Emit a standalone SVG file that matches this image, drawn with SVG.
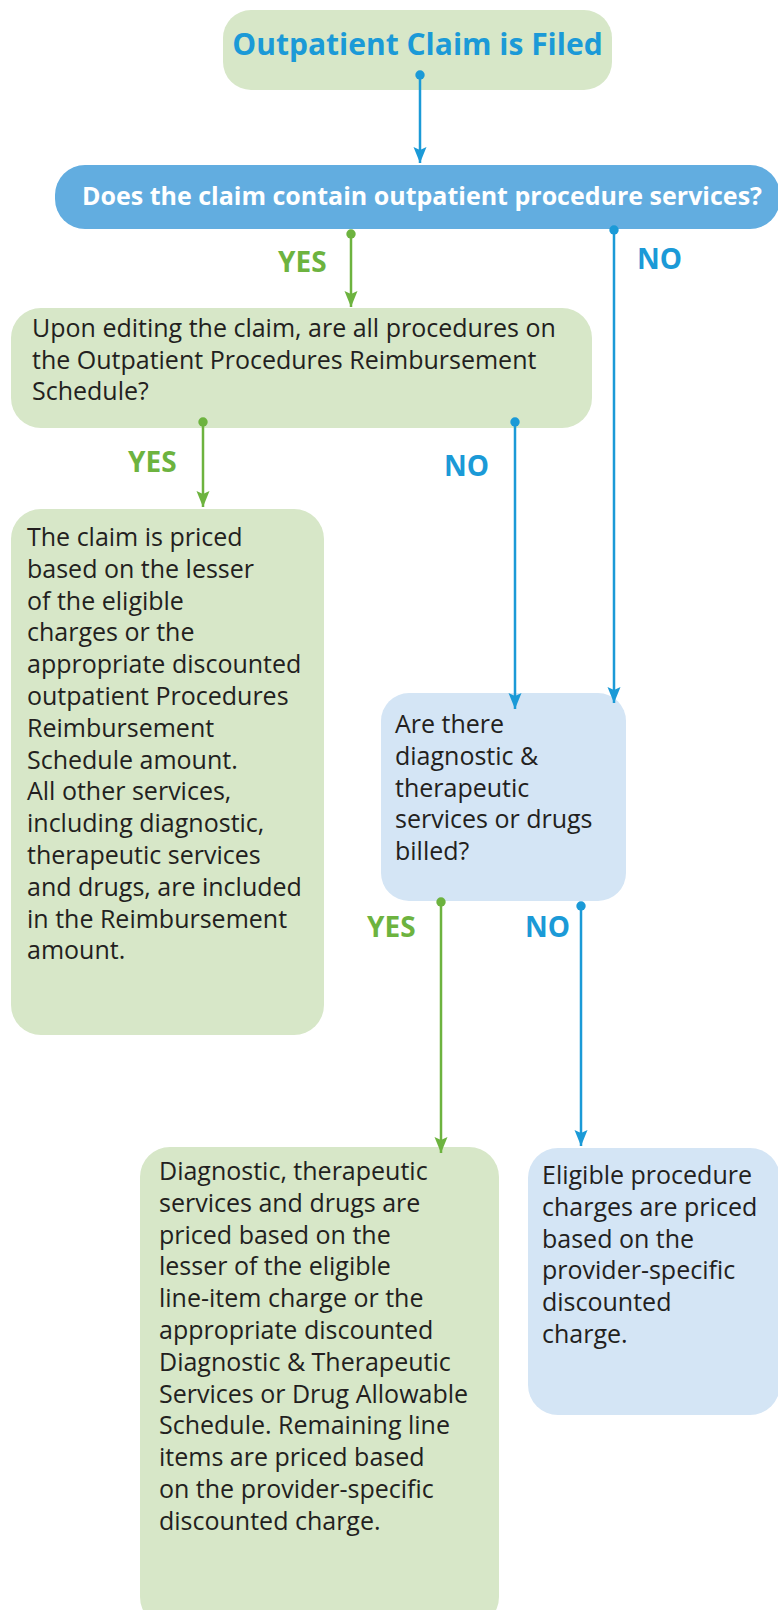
<svg xmlns="http://www.w3.org/2000/svg" width="778" height="1610" viewBox="0 0 778 1610">
<style>
.g{fill:#d7e7c8}
.lb{fill:#d4e5f5}
.db{fill:#62ade0}
.t{font-family:"Open Sans","Noto Sans",sans-serif;font-size:25px;fill:#231f20}
.ttl{font-family:"Open Sans","Noto Sans",sans-serif;font-size:30px;font-weight:bold;fill:#1b9ad7}
.q{font-family:"Open Sans","Noto Sans",sans-serif;font-size:25px;font-weight:bold;fill:#ffffff}
.yes{font-family:"Open Sans","Noto Sans",sans-serif;font-size:28px;font-weight:bold;fill:#6db33f}
.no{font-family:"Open Sans","Noto Sans",sans-serif;font-size:28px;font-weight:bold;fill:#1b9ad7}
.cg{stroke:#6db33f;stroke-width:2.5;fill:none}
.cb{stroke:#1b9ad7;stroke-width:2.5;fill:none}
.dg{fill:#6db33f}
.dbl{fill:#1b9ad7}
</style>
<defs>
<marker id="ag" markerUnits="userSpaceOnUse" markerWidth="17" markerHeight="14" refX="16" refY="7" orient="auto" viewBox="0 0 17 14">
<path d="M0,0.5 L3,7 L0,13.5 L16,7 Z" fill="#6db33f"/>
</marker>
<marker id="ab" markerUnits="userSpaceOnUse" markerWidth="17" markerHeight="14" refX="16" refY="7" orient="auto" viewBox="0 0 17 14">
<path d="M0,0.5 L3,7 L0,13.5 L16,7 Z" fill="#1b9ad7"/>
</marker>
</defs>

<g id="n-start">
<rect class="g" x="223" y="10" width="389" height="80" rx="28"/>
<text class="ttl" x="417.5" y="55" text-anchor="middle">Outpatient Claim is Filed</text>
</g>

<g id="n-q1">
<rect class="db" x="55" y="165" width="725" height="64" rx="30"/>
<text class="q" x="82" y="205">Does the claim contain outpatient procedure services?</text>
</g>

<g id="n-q2">
<rect class="g" x="11" y="308" width="581" height="120" rx="30"/>
<text class="t" x="32" y="337">Upon editing the claim, are all procedures on</text>
<text class="t" x="32" y="368.5">the Outpatient Procedures Reimbursement</text>
<text class="t" x="32" y="400">Schedule?</text>
</g>

<g id="n-r1">
<rect class="g" x="11" y="509" width="313" height="526" rx="30"/>
<text class="t" x="27" y="546">The claim is priced</text>
<text class="t" x="27" y="577.8">based on the lesser</text>
<text class="t" x="27" y="609.6">of the eligible</text>
<text class="t" x="27" y="641.4">charges or the</text>
<text class="t" x="27" y="673.2">appropriate discounted</text>
<text class="t" x="27" y="705">outpatient Procedures</text>
<text class="t" x="27" y="736.8">Reimbursement</text>
<text class="t" x="27" y="768.6">Schedule amount.</text>
<text class="t" x="27" y="800.4">All other services,</text>
<text class="t" x="27" y="832.2">including diagnostic,</text>
<text class="t" x="27" y="864">therapeutic services</text>
<text class="t" x="27" y="895.8">and drugs, are included</text>
<text class="t" x="27" y="927.6">in the Reimbursement</text>
<text class="t" x="27" y="959.4">amount.</text>
</g>

<g id="n-q3">
<rect class="lb" x="381" y="693" width="245" height="208" rx="28"/>
<text class="t" x="395" y="733">Are there</text>
<text class="t" x="395" y="764.8">diagnostic &amp;</text>
<text class="t" x="395" y="796.6">therapeutic</text>
<text class="t" x="395" y="828.4">services or drugs</text>
<text class="t" x="395" y="860.2">billed?</text>
</g>

<g id="n-r2">
<rect class="g" x="140" y="1147" width="359" height="480" rx="30"/>
<text class="t" x="159" y="1180">Diagnostic, therapeutic</text>
<text class="t" x="159" y="1211.8">services and drugs are</text>
<text class="t" x="159" y="1243.6">priced based on the</text>
<text class="t" x="159" y="1275.4">lesser of the eligible</text>
<text class="t" x="159" y="1307.2">line-item charge or the</text>
<text class="t" x="159" y="1339">appropriate discounted</text>
<text class="t" x="159" y="1370.8">Diagnostic &amp; Therapeutic</text>
<text class="t" x="159" y="1402.6">Services or Drug Allowable</text>
<text class="t" x="159" y="1434.4">Schedule. Remaining line</text>
<text class="t" x="159" y="1466.2">items are priced based</text>
<text class="t" x="159" y="1498">on the provider-specific</text>
<text class="t" x="159" y="1529.8">discounted charge.</text>
</g>

<g id="n-r3">
<rect class="lb" x="528" y="1148" width="252" height="267" rx="30"/>
<text class="t" x="542" y="1184">Eligible procedure</text>
<text class="t" x="542" y="1215.8">charges are priced</text>
<text class="t" x="542" y="1247.6">based on the</text>
<text class="t" x="542" y="1279.4">provider-specific</text>
<text class="t" x="542" y="1311.2">discounted</text>
<text class="t" x="542" y="1343">charge.</text>
</g>

<g id="connectors">
<circle class="dbl" cx="420" cy="75" r="4.7"/>
<line class="cb" x1="420" y1="75" x2="420" y2="163" marker-end="url(#ab)"/>

<circle class="dg" cx="351" cy="234" r="4.7"/>
<line class="cg" x1="351" y1="234" x2="351" y2="307" marker-end="url(#ag)"/>
<text class="yes" x="278" y="272">YES</text>

<circle class="dbl" cx="614" cy="230" r="4.7"/>
<line class="cb" x1="614" y1="230" x2="614" y2="703" marker-end="url(#ab)"/>
<text class="no" x="637" y="269">NO</text>

<circle class="dg" cx="203" cy="422" r="4.7"/>
<line class="cg" x1="203" y1="422" x2="203" y2="507" marker-end="url(#ag)"/>
<text class="yes" x="128" y="472">YES</text>

<circle class="dbl" cx="515" cy="422" r="4.7"/>
<line class="cb" x1="515" y1="422" x2="515" y2="709" marker-end="url(#ab)"/>
<text class="no" x="444" y="476">NO</text>

<circle class="dg" cx="441" cy="902" r="4.7"/>
<line class="cg" x1="441" y1="902" x2="441" y2="1153" marker-end="url(#ag)"/>
<text class="yes" x="367" y="937">YES</text>

<circle class="dbl" cx="581" cy="906" r="4.7"/>
<line class="cb" x1="581" y1="906" x2="581" y2="1146" marker-end="url(#ab)"/>
<text class="no" x="525" y="937">NO</text>
</g>
</svg>
